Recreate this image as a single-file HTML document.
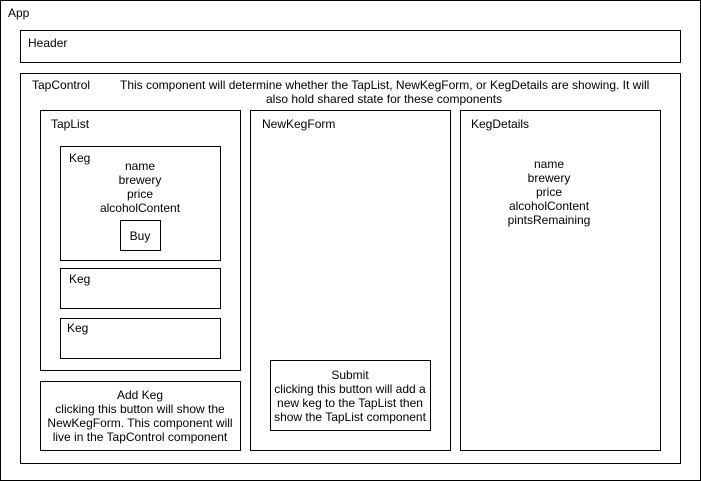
<!DOCTYPE html>
<html><head><style>
html,body{margin:0;padding:0;background:#fff;}
svg{display:block;font-family:"Liberation Sans",Helvetica,Arial,sans-serif;font-size:12px;}
rect{fill:none;stroke:#000;stroke-width:1;}
</style></head><body>
<svg width="701" height="481" viewBox="0 0 701 481" xmlns="http://www.w3.org/2000/svg">
<rect x="0.5" y="0.5" width="700" height="480"/>
<text x="8" y="17">App</text>
<rect x="20.5" y="30.5" width="660" height="32"/>
<text x="28" y="47">Header</text>
<rect x="20.5" y="73.5" width="660" height="390"/>
<text x="32" y="89">TapControl</text>
<text x="120" y="89">This component will determine whether the TapList, NewKegForm, or KegDetails are showing. It will</text>
<text x="266" y="103">also hold shared state for these components</text>
<rect x="40.5" y="110.5" width="200" height="260"/>
<text x="51" y="128">TapList</text>
<rect x="60.5" y="146.5" width="160" height="114"/>
<text x="69" y="162">Keg</text>
<g text-anchor="middle">
<text x="140" y="170">name</text>
<text x="140" y="184">brewery</text>
<text x="140" y="198">price</text>
<text x="140" y="212">alcoholContent</text>
</g>
<rect x="120.5" y="220.5" width="40" height="30"/>
<text x="140" y="240" text-anchor="middle">Buy</text>
<rect x="60.5" y="268.5" width="160" height="40"/>
<text x="69" y="283">Keg</text>
<rect x="60.5" y="318.5" width="160" height="40"/>
<text x="67" y="332">Keg</text>
<rect x="40.5" y="381.5" width="200" height="69"/>
<g text-anchor="middle">
<text x="140" y="399">Add Keg</text>
<text x="140" y="413">clicking this button will show the</text>
<text x="140" y="427">NewKegForm. This component will</text>
<text x="140" y="441">live in the TapControl component</text>
</g>
<rect x="250.5" y="110.5" width="200" height="340"/>
<text x="262" y="128">NewKegForm</text>
<rect x="270.5" y="360.5" width="160" height="70"/>
<g text-anchor="middle">
<text x="350" y="379">Submit</text>
<text x="350" y="393">clicking this button will add a</text>
<text x="350" y="407">new keg to the TapList then</text>
<text x="350" y="421">show the TapList component</text>
</g>
<rect x="460.5" y="110.5" width="200" height="340"/>
<text x="471" y="128">KegDetails</text>
<g text-anchor="middle">
<text x="549" y="168">name</text>
<text x="549" y="182">brewery</text>
<text x="549" y="196">price</text>
<text x="549" y="210">alcoholContent</text>
<text x="549" y="224">pintsRemaining</text>
</g>
</svg>
</body></html>
